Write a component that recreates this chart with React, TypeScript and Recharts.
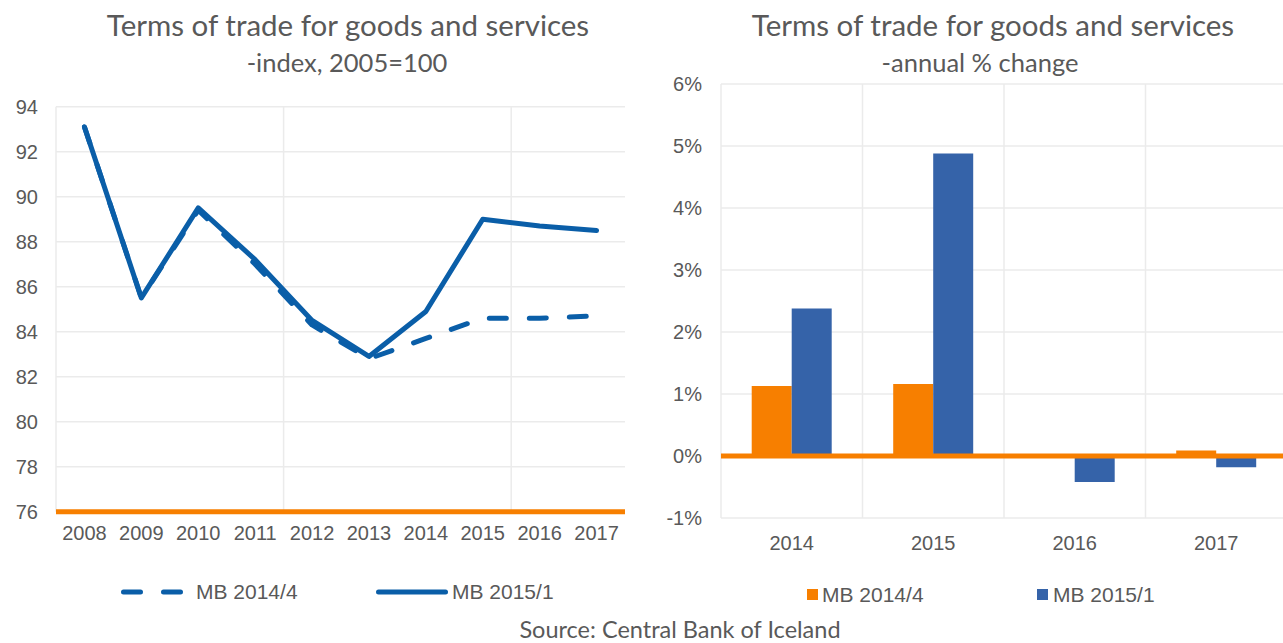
import React from 'react';
import {
  LineChart,
  Line,
  BarChart,
  Bar,
  XAxis,
  YAxis,
  CartesianGrid,
  ReferenceLine,
} from 'recharts';

// left panel: index, 2005=100
const years = ['2008', '2009', '2010', '2011', '2012', '2013', '2014', '2015', '2016', '2017'];
const mb20144Index = [93.1, 85.5, 89.4, 87.0, 84.3, 82.8, 83.7, 84.6, 84.6, 84.7];
const mb20151Index = [93.1, 85.5, 89.5, 87.2, 84.5, 82.9, 84.9, 89.0, 88.7, 88.5];
const indexTicks = [76, 78, 80, 82, 84, 86, 88, 90, 92, 94];

// right panel: annual % change
const changeYears = ['2014', '2015', '2016', '2017'];
const mb20144Change = [1.13, 1.16, 0, 0.09];
const mb20151Change = [2.38, 4.88, -0.42, -0.18];
const changeTicks = [-1, 0, 1, 2, 3, 4, 5, 6];

const seriesNames = ['MB 2014/4', 'MB 2015/1'];

const BLUE_LINE = '#0A5EA8';
const BLUE_BAR = '#3563A9';
const ORANGE = '#F77F00';
const GRID = '#ebebeb';
const TEXT = '#595959';
const AXIS_FONT = "'Liberation Sans', Arial, sans-serif";
const TITLE_FONT = "Lato, 'Open Sans', sans-serif";

const indexData = years.map((year, i) => ({
  year,
  mb20144: mb20144Index[i],
  mb20151: mb20151Index[i],
}));

const changeData = changeYears.map((year, i) => ({
  year,
  mb20144: mb20144Change[i],
  mb20151: mb20151Change[i],
}));

const tickStyle = { fill: TEXT, fontSize: 20, fontFamily: AXIS_FONT };

// vertical gridlines sit on category boundaries: every 4th year on the left, every year on the right
const everyNthBoundary = (count: number, step: number) =>
  ({ offset }: any) => {
    const out: number[] = [];
    for (let k = 0; k < count; k += step) out.push(offset.left + (offset.width * k) / count);
    return out;
  };

function Title({ center, title, subtitle, subCenter }: { center: number; title: string; subtitle: string; subCenter: number }) {
  return (
    <>
      <div
        style={{
          position: 'absolute',
          left: center - 300,
          width: 600,
          top: 5,
          textAlign: 'center',
          fontFamily: TITLE_FONT,
          fontSize: 29.5,
          color: TEXT,
          lineHeight: '40px',
        }}
      >
        {title}
      </div>
      <div
        style={{
          position: 'absolute',
          left: subCenter - 300,
          width: 600,
          top: 46,
          textAlign: 'center',
          fontFamily: TITLE_FONT,
          fontSize: 25.5,
          color: TEXT,
          lineHeight: '32px',
        }}
      >
        {subtitle}
      </div>
    </>
  );
}

function LegendText({ left, top, children }: { left: number; top: number; children: React.ReactNode }) {
  return (
    <div
      style={{
        position: 'absolute',
        left,
        top: top - 12,
        height: 24,
        lineHeight: '24px',
        fontFamily: AXIS_FONT,
        fontSize: 21,
        color: TEXT,
        whiteSpace: 'nowrap',
      }}
    >
      {children}
    </div>
  );
}

export default function App() {
  return (
    <div
      style={{
        position: 'absolute',
        left: 0,
        top: 0,
        width: 1283,
        height: 643,
        overflow: 'hidden',
        background: '#fff',
      }}
    >
      <Title center={348} subCenter={347} title="Terms of trade for goods and services" subtitle="-index, 2005=100" />
      <Title center={993} subCenter={980} title="Terms of trade for goods and services" subtitle="-annual % change" />

      <div style={{ position: 'absolute', left: 0, top: 0 }}>
        <LineChart
          width={640}
          height={560}
          data={indexData}
          margin={{ top: 106.7, right: 15, bottom: 8.3, left: 0 }}
        >
          <CartesianGrid
            stroke={GRID}
            strokeWidth={1.5}
            verticalCoordinatesGenerator={everyNthBoundary(years.length, 4)}
          />
          <XAxis
            dataKey="year"
            padding={{ left: 28.45, right: 28.45 }}
            height={40}
            tickLine={false}
            tickSize={0}
            tickMargin={14}
            axisLine={{ stroke: ORANGE, strokeWidth: 5 }}
            tick={tickStyle}
            interval={0}
          />
          <YAxis
            domain={[76, 94]}
            ticks={indexTicks}
            width={56}
            axisLine={false}
            tickLine={false}
            tickSize={0}
            tickMargin={18}
            tick={tickStyle}
            interval={0}
          />
          <Line
            dataKey="mb20144"
            name={seriesNames[0]}
            stroke={BLUE_LINE}
            strokeWidth={5}
            strokeDasharray="17 23"
            strokeLinecap="round"
            strokeLinejoin="round"
            dot={false}
            activeDot={false}
            isAnimationActive={false}
          />
          <Line
            dataKey="mb20151"
            name={seriesNames[1]}
            stroke={BLUE_LINE}
            strokeWidth={5}
            strokeLinecap="round"
            strokeLinejoin="round"
            dot={false}
            activeDot={false}
            isAnimationActive={false}
          />
        </LineChart>
      </div>

      <div style={{ position: 'absolute', left: 640, top: 0 }}>
        <BarChart
          width={647}
          height={560}
          data={changeData}
          margin={{ top: 84, right: 0, bottom: 2, left: 0 }}
          barCategoryGap="21.7%"
          barGap={0}
        >
          <CartesianGrid
            stroke={GRID}
            strokeWidth={1.5}
            verticalCoordinatesGenerator={everyNthBoundary(changeYears.length, 1)}
          />
          <XAxis
            dataKey="year"
            height={40}
            axisLine={false}
            tickLine={false}
            tickSize={0}
            tickMargin={18}
            tick={tickStyle}
            interval={0}
          />
          <YAxis
            domain={[-1, 6]}
            ticks={changeTicks}
            width={81}
            axisLine={false}
            tickLine={false}
            tickSize={0}
            tickMargin={19}
            tick={tickStyle}
            tickFormatter={(v: number) => `${v}%`}
            interval={0}
          />
          <Bar dataKey="mb20144" name={seriesNames[0]} fill={ORANGE} isAnimationActive={false} />
          <Bar dataKey="mb20151" name={seriesNames[1]} fill={BLUE_BAR} isAnimationActive={false} />
          <ReferenceLine y={0} stroke={ORANGE} strokeWidth={5} />
        </BarChart>
      </div>

      {/* left legend */}
      <svg style={{ position: 'absolute', left: 0, top: 580 }} width={640} height={24}>
        <line x1={123.5} y1={12} x2={180.5} y2={12} stroke={BLUE_LINE} strokeWidth={5} strokeDasharray="17 23" strokeLinecap="round" />
        <line x1={378.5} y1={12} x2={445.5} y2={12} stroke={BLUE_LINE} strokeWidth={5} strokeLinecap="round" />
      </svg>
      <LegendText left={196} top={592}>{seriesNames[0]}</LegendText>
      <LegendText left={452} top={592}>{seriesNames[1]}</LegendText>

      {/* right legend */}
      <div style={{ position: 'absolute', left: 807, top: 589, width: 11, height: 11, background: ORANGE }} />
      <LegendText left={822} top={595}>{seriesNames[0]}</LegendText>
      <div style={{ position: 'absolute', left: 1037, top: 589, width: 11, height: 11, background: BLUE_BAR }} />
      <LegendText left={1053} top={595}>{seriesNames[1]}</LegendText>

      <div
        style={{
          position: 'absolute',
          left: 380,
          width: 600,
          top: 617,
          height: 24,
          textAlign: 'center',
          fontFamily: TITLE_FONT,
          fontSize: 23.5,
          color: TEXT,
          lineHeight: '24px',
        }}
      >
        Source: Central Bank of Iceland
      </div>
    </div>
  );
}
